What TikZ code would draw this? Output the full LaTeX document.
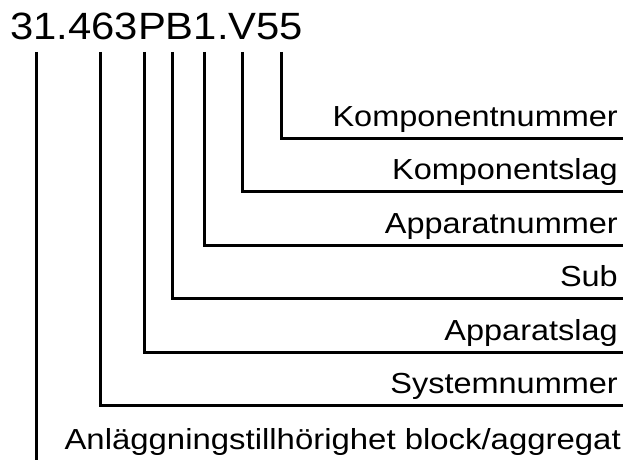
\documentclass[tikz,border=0pt]{standalone}
\usepackage{fontspec}
\setmainfont{Liberation Sans}
\begin{document}
\begin{tikzpicture}[x=1pt,y=-1pt,
  lead/.style={line width=3pt,line cap=butt,line join=miter},
  lbl/.style={anchor=base east,inner sep=0pt,font=\fontsize{29}{29}\selectfont},
  ttl/.style={anchor=base west,inner sep=0pt,font=\fontsize{38}{38}\selectfont}]
\useasboundingbox (0,0) rectangle (626,460);
\node[ttl] (code) at (10,40) {\scalebox{1.1}[1]{31.463PB1.V55}};
% tops of leads
\coordinate (t1) at (36,52);
\coordinate (t2) at (100.5,52);
\coordinate (t3) at (144.5,52);
\coordinate (t4) at (172,52);
\coordinate (t5) at (204.5,52);
\coordinate (t6) at (242.5,52);
\coordinate (t7) at (281,52);
% right ends
\coordinate (r7) at (623,138);
\coordinate (r6) at (623,191.5);
\coordinate (r5) at (623,245);
\coordinate (r4) at (623,298.5);
\coordinate (r3) at (623,352);
\coordinate (r2) at (623,405.5);
\coordinate (b1) at (36,460);
% labels
\node[lbl] (l7) at (618,126) {\scalebox{1.12}[1]{Komponentnummer}};
\node[lbl] (l6) at (618,179.5) {\scalebox{1.12}[1]{Komponentslag}};
\node[lbl] (l5) at (618,233) {\scalebox{1.12}[1]{Apparatnummer}};
\node[lbl] (l4) at (618,286.5) {\scalebox{1.12}[1]{Sub}};
\node[lbl] (l3) at (618,340) {\scalebox{1.12}[1]{Apparatslag}};
\node[lbl] (l2) at (618,393.5) {\scalebox{1.12}[1]{Systemnummer}};
\node[lbl] (l1) at (621,449) {\scalebox{1.135}[1]{Anläggningstillhörighet block/aggregat}};
% leads
\draw[lead] (t7) |- (r7);
\draw[lead] (t6) |- (r6);
\draw[lead] (t5) |- (r5);
\draw[lead] (t4) |- (r4);
\draw[lead] (t3) |- (r3);
\draw[lead] (t2) |- (r2);
\draw[lead] (t1) -- (b1);
\end{tikzpicture}
\end{document}
